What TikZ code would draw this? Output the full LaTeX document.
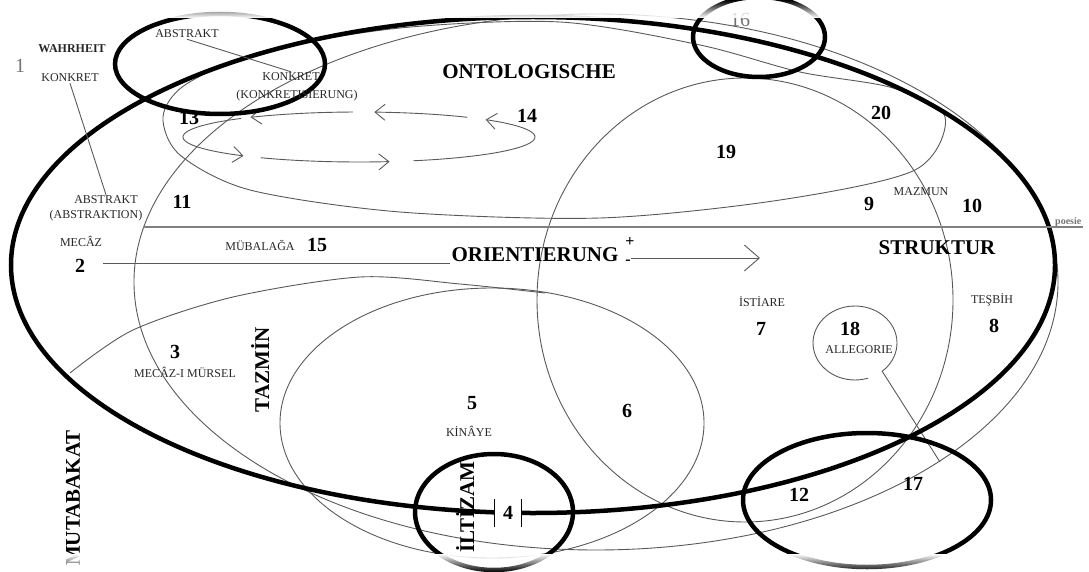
\documentclass[tikz,border=0pt]{standalone}
\usepackage{fontspec}
\setmainfont{Liberation Serif}
\usetikzlibrary{arrows.meta,fadings}

\begin{document}
\begin{tikzpicture}[x=1pt, y=-1pt,
  ring/.style={line width=4.5pt, black},
  thinline/.style={line width=0.9pt, black!65},
  num/.style={font=\fontsize{20}{22}\selectfont\bfseries, inner sep=1pt},
  plainnum/.style={font=\fontsize{20}{22}\selectfont, inner sep=1pt, text=black!55},
  word/.style={font=\fontsize{12}{14}\selectfont, inner sep=1pt, text=black!85},
  head/.style={font=\fontsize{21}{24}\selectfont\bfseries, inner sep=1pt},
  vert/.style={head, rotate=90},
  loopseg/.style={thinline, {Straight Barb[length=10pt,width=16pt]}-},
  bigarrow/.style={thinline, -{Straight Barb[length=15pt,width=26pt]}}]
\useasboundingbox (0,0) rectangle (1089,572);

% thin outlines
\draw[thinline] (596,282) ellipse [x radius=462, y radius=268];
\draw[thinline] (745,300) ellipse [x radius=208, y radius=222];
\draw[thinline] (492,423) ellipse [x radius=212, y radius=135];
\draw[thinline] plot[smooth cycle] coordinates {(163,117) (185,85) (260,52) (400,28) (560,22) (700,45) (800,72) (893,88) (945,117) (915,170) (780,200) (600,218) (400,212) (250,190) (180,155)};
\draw[thinline] plot[smooth] coordinates {(70,373) (133,330) (233,297) (360,277) (460,284) (545,293)};

% loop round 13 and 14
\draw[loopseg] plot[domain=-44:72, samples=40, variable=\t] ({359+176*cos(\t)},{137+25*sin(\t)});
\draw[loopseg] plot[domain=275:308, samples=15, variable=\t] ({359+176*cos(\t)},{137+25*sin(\t)});
\draw[loopseg] plot[domain=232:268, samples=15, variable=\t] ({359+176*cos(\t)},{137+25*sin(\t)});
\draw[loopseg] plot[domain=131:228, samples=40, variable=\t] ({359+176*cos(\t)},{137+25*sin(\t)});
\draw[loopseg] plot[domain=80:124, samples=15, variable=\t] ({359+176*cos(\t)},{137+25*sin(\t)});

% allegorie bubble
\draw[thinline] plot[domain=72:410, samples=60, variable=\t] ({855+42*cos(\t)},{343+37*sin(\t)});
\coordinate (tailA) at (882,371);
\coordinate (tailB) at (940,462);
\draw[thinline] (tailA) -- (tailB);

% thick rings
\draw[ring] (533,265) ellipse [x radius=522, y radius=248];
\draw[ring] (220,64) ellipse [x radius=105, y radius=50];
\draw[ring] (759,37) ellipse [x radius=66, y radius=40];
\draw[ring] (494,512) ellipse [x radius=79, y radius=58];
\draw[ring] (867,500) ellipse [x radius=124, y radius=67];

% labels
\node[plainnum] (n1) at (20,66) {1};
\node[word, font=\fontsize{12}{14}\selectfont\bfseries] (truth) at (72,49) {WAHRHEIT};
\node[word] (konkleft) at (70,78) {KONKRET};
\node[word] (abstop) at (187,34) {ABSTRAKT};
\node[word] (konkup) at (291,77) {KONKRET};
\node[word] (konkproc) at (297,96) {(KONKRETISIERUNG)};
\node[word] (abslow) at (106,200) {ABSTRAKT};
\node[word] (absproc) at (96,216) {(ABSTRAKTION)};
\node[num] (n13) at (189,118) {13};
\node[num] (n11) at (182,202) {11};
\node[head] (onto) at (529,72) {ONTOLOGISCHE};
\node[num] (n14) at (527,116) {14};
\node[num] (n19) at (726,152) {19};
\node[num] (n20) at (881,113) {20};
\node[plainnum] (n16) at (740,20) {16};
\node[num] (n9) at (869,204) {9};
\node[word] (mazmun) at (921,192) {MAZMUN};
\node[num] (n10) at (972,206) {10};
\node[word, font=\fontsize{10}{12}\selectfont\bfseries, text=black!55, anchor=base west] (poesie) at (1054,225) {poesie};
\node[word] (mecaz) at (81,241) {MECÂZ};
\node[num] (n2) at (80,266) {2};
\node[word] (mubalaga) at (260,245) {MÜBALAĞA};
\node[num] (n15) at (317,245) {15};
\node[head] (orient) at (535,255) {ORIENTIERUNG};
\node[font=\fontsize{16}{16}\selectfont\bfseries, inner sep=0pt] (plus) at (630,242) {+};
\node[font=\fontsize{16}{16}\selectfont\bfseries, inner sep=0pt] (minus) at (628,262) {-};
\node[head] (struktur) at (937,248) {STRUKTUR};
\node[word] (istiare) at (762,302) {İSTİARE};
\node[num] (n7) at (761,329) {7};
\node[word] (tesbih) at (992,300) {TEŞBİH};
\node[num] (n8) at (994,326) {8};
\node[num] (n18) at (850,329) {18};
\node[word] (allegorie) at (859,350) {ALLEGORIE};
\node[num] (n3) at (175,352) {3};
\node[word] (mursel) at (185,372) {MECÂZ-I MÜRSEL};
\node[vert] (tazmin) at (260,370) {TAZMİN};
\node[vert] (mutabakat) at (73,498) {MUTABAKAT};
\node[num] (n5) at (472,403) {5};
\node[word] (kinaye) at (469,431) {KİNÂYE};
\node[num] (n6) at (627,411) {6};
\node[vert] (iltizam) at (465,507) {İLTİZAM};
\node[num, fill=white, minimum width=26pt] (n4) at (508,513) {4};
\node[num] (n12) at (799,495) {12};
\node[num] (n17) at (913,484) {17};

% connectors
\draw[thinline] (abstop.south) -- (konkup.north);
\draw[thinline] (konkleft.south) -- (abslow.north);
\draw[line width=1pt] ([yshift=14pt]n4.west) -- ([yshift=-14pt]n4.west);
\draw[line width=1pt] ([yshift=14pt]n4.east) -- ([yshift=-14pt]n4.east);
\coordinate (poesieL) at (143,227);
\draw[thinline, line width=1.3pt, black!50] (poesieL) -- (poesieL -| poesie.east);
\coordinate (orientL) at (103,263);
\draw[thinline] (orientL) -- (orientL -| orient.west);
\coordinate (orientR) at (760,258);
\draw[bigarrow] (orientR -| minus.east) -- (orientR);

% faded edges
\fill[white, path fading=north] (0,0) rectangle (1089,18);
\fill[white, path fading=south] (0,554) rectangle (1089,572);
\end{tikzpicture}
\end{document}
